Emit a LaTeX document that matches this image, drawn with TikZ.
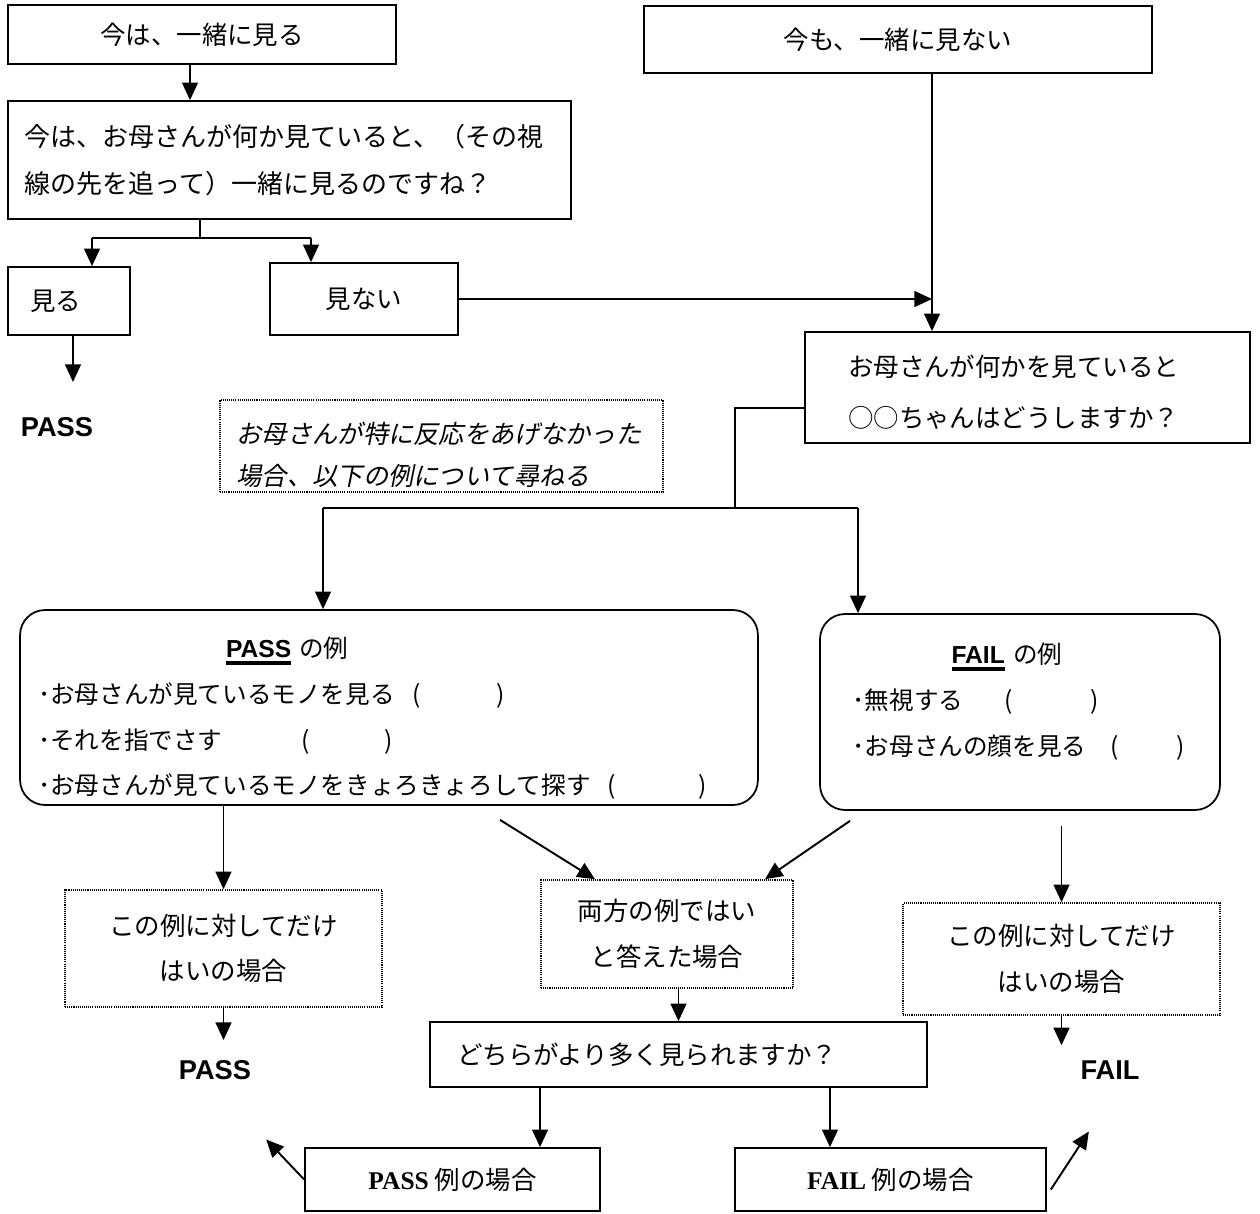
\documentclass[tikz,border=0pt]{standalone}
\usepackage{fontspec}
\setmainfont{Noto Sans CJK JP}
\newfontfamily\jpslant[FakeSlant=0.2]{Noto Sans CJK JP}
\newfontfamily\arialfont{Liberation Sans}
\newfontfamily\timesfont{Liberation Serif}
\usepackage{tikz}
\usetikzlibrary{arrows.meta,calc,positioning}
\newcommand{\thickul}[1]{\setbox0=\hbox{#1}\rlap{\rule[-0.28em]{\wd0}{0.16em}}\box0\relax}
\tikzstyle{tsText} = [
    text=black,
    font=\fontsize{14.5}{26}\selectfont
]
\tikzstyle{tsBox} = [
    rectangle,
    tsText,
    draw=black,
    line width=1pt,
    inner sep=0pt]
\tikzstyle{tsDotBox} = [
    tsBox,
    dash pattern=on 0.6pt off 0.6pt,
    line width=0.9pt
]
\tikzstyle{tsRoundBox} = [
    tsBox,
    rounded corners=0.5cm,
    font=\fontsize{14}{26}\selectfont
]
\tikzstyle{tsResult} = [
    text=black,
    inner sep=0pt,
    font=\arialfont\bfseries\fontsize{15.5}{18}\selectfont
]
\tikzstyle{tsLine} = [line width=1.1pt]
\tikzstyle{tsArrow} = [tsLine, -{Triangle[length=10pt,width=9pt]}]

\begin{document}
\begin{tikzpicture}[x=0.02cm, y=-0.02cm]

        \useasboundingbox (0,0) rectangle (1260,1213);

        % top left branch
        \node[  tsBox,
                minimum width=7.76cm,
                minimum height=1.18cm] (nowLook) at (202,34.5) {今は、一緒に見る};

        \node[  tsBox,
                minimum width=11.26cm,
                minimum height=2.36cm,
                text width=10.6cm,
                align=left,
                font=\fontsize{14.8}{27}\selectfont] (question) at (289.5,160)
                {今は、お母さんが何か見ていると、（その視\\線の先を追って）一緒に見るのですね？};

        \node[  tsBox,
                minimum width=2.44cm,
                minimum height=1.36cm,
                text width=1.56cm,
                align=left] (look) at (69,301) {見る};

        \node[  tsBox,
                minimum width=3.76cm,
                minimum height=1.44cm] (notLook) at (364,299) {見ない};

        \node[tsResult] (passTop) at (57,427) {PASS};

        % top right branch
        \node[  tsBox,
                minimum width=10.16cm,
                minimum height=1.34cm] (nowNot) at (898,39.5) {今も、一緒に見ない};

        \node[  tsBox,
                minimum width=8.9cm,
                minimum height=2.22cm,
                text width=7.18cm,
                align=left,
                font=\fontsize{14.5}{29}\selectfont] (motherQ) at (1027.5,387.5)
                {\mbox{}\\[-0.39cm]
                お母さんが何かを見ていると\\○○ちゃんはどうしますか？};

        \node[  tsDotBox,
                minimum width=8.86cm,
                minimum height=1.84cm,
                text width=8.2cm,
                align=left,
                font=\jpslant\fontsize{14.4}{24}\selectfont] (note) at (441.5,446)
                {\mbox{}\\[-0.055cm]
                お母さんが特に反応をあげなかった\\場合、以下の例について尋ねる};

        % examples
        \node[  tsRoundBox,
                minimum width=14.76cm,
                minimum height=3.9cm,
                text width=14.04cm,
                align=left] (passEx) at (389,707.5)
                {\mbox{}\\[-0.07cm]
                \hspace*{3.76cm}\thickul{\arialfont\bfseries PASS} の例\\
                \makebox[7.5cm][l]{･お母さんが見ているモノを見る}(\hspace{1.5cm})\\
                \makebox[5.26cm][l]{･それを指でさす}(\hspace{1.5cm})\\
                \makebox[11.4cm][l]{･お母さんが見ているモノをきょろきょろして探す}(\hspace{1.65cm})};

        \node[  tsRoundBox,
                minimum width=8.0cm,
                minimum height=3.92cm,
                text width=6.7cm,
                align=left] (failEx) at (1020,712)
                {\hspace*{1.98cm}\thickul{\arialfont\bfseries FAIL} の例\\
                \makebox[3.04cm][l]{･無視する}(\hspace{1.55cm})\\
                \makebox[5.16cm][l]{･お母さんの顔を見る}(\hspace{1.15cm})\\[-0.4cm]
                \mbox{}};

        % answers
        \node[  tsDotBox,
                minimum width=6.34cm,
                minimum height=2.34cm,
                align=center] (onlyPass) at (223.5,948.5) {この例に対してだけ\\はいの場合};

        \node[  tsDotBox,
                minimum width=5.04cm,
                minimum height=2.16cm,
                align=center] (bothYes) at (667,934) {両方の例ではい\\と答えた場合};

        \node[  tsDotBox,
                minimum width=6.34cm,
                minimum height=2.24cm,
                align=center] (onlyFail) at (1061.5,959) {この例に対してだけ\\はいの場合};

        \node[  tsBox,
                minimum width=9.94cm,
                minimum height=1.3cm,
                text width=8.86cm,
                align=left] (whichMore) at (678.5,1054.5) {どちらがより多く見られますか？};

        \node[tsResult] (passBottom) at (215,1070) {PASS};
        \node[tsResult] (failBottom) at (1110,1070) {FAIL};

        \node[  tsBox,
                minimum width=5.9cm,
                minimum height=1.26cm] (passCase) at (452.5,1179.5) {{\timesfont\bfseries PASS} 例の場合};

        \node[  tsBox,
                minimum width=6.22cm,
                minimum height=1.26cm] (failCase) at (890.5,1179.5) {{\timesfont\bfseries FAIL} 例の場合};

        % connectors
        \coordinate (fork) at (200,238);
        \coordinate (forkL) at (92,238);
        \coordinate (forkR) at (311,238);
        \coordinate (drop) at (932,0);
        \coordinate (elbow) at (735,408);
        \coordinate (splitL) at (323,508);
        \coordinate (splitR) at (858,508);

        \draw[tsArrow] ([xshift=-0.24cm]nowLook.south) -- ([xshift=-0.24cm]nowLook.south |- question.north);
        \draw[tsLine] (question.south -| fork) -- (fork);
        \draw[tsLine] (forkL) -- (forkR);
        \draw[tsArrow] (forkL) -- (forkL |- look.north);
        \draw[tsArrow] (forkR) -- (forkR |- notLook.north);
        \draw[tsArrow, shorten >=0.7cm] ([xshift=0.08cm]look.south) -- ([xshift=0.08cm]look.south |- passTop.north);

        \draw[tsArrow] (notLook.east) -- (notLook.east -| drop);
        \draw[tsArrow] (drop |- nowNot.south) -- (drop |- motherQ.north);

        \draw[tsLine] (elbow -| motherQ.west) -- (elbow) -- (elbow |- splitL);
        \draw[tsLine] (splitL) -- (splitR);
        \draw[tsArrow] (splitL) -- (splitL |- passEx.north);
        \draw[tsArrow] (splitR) -- (splitR |- failEx.north);

        \draw[tsArrow] (passEx.south -| onlyPass.north) -- (onlyPass.north);
        \draw[tsArrow] ($(passEx.south)+(111,14)$) -- ($(bothYes.north)+(-72,0)$);
        \draw[tsArrow] ($(failEx.south)+(-170,10)$) -- ($(bothYes.north)+(98,0)$);
        \draw[tsArrow] ($(failEx.south -| onlyFail.north)+(0,15)$) -- (onlyFail.north);

        \draw[tsArrow, shorten >=0.4cm] (onlyPass.south) -- (onlyPass.south |- passBottom.north);
        \draw[tsArrow, shorten >=0.3cm] (onlyFail.south) -- (onlyFail.south |- failBottom.north);
        \draw[tsArrow] (bothYes.south -| whichMore.north) -- (whichMore.north);

        \draw[tsArrow] ([xshift=-2.77cm]whichMore.south) -- ([xshift=-2.77cm]whichMore.south |- passCase.north);
        \draw[tsArrow] ([xshift=3.03cm]whichMore.south) -- ([xshift=3.03cm]whichMore.south |- failCase.north);
        \draw[tsArrow] (passCase.west) -- ++(-38,-40);
        \draw[tsArrow] ([shift={(4,10)}]failCase.east) -- ++(38,-58);

\end{tikzpicture}
\end{document}
